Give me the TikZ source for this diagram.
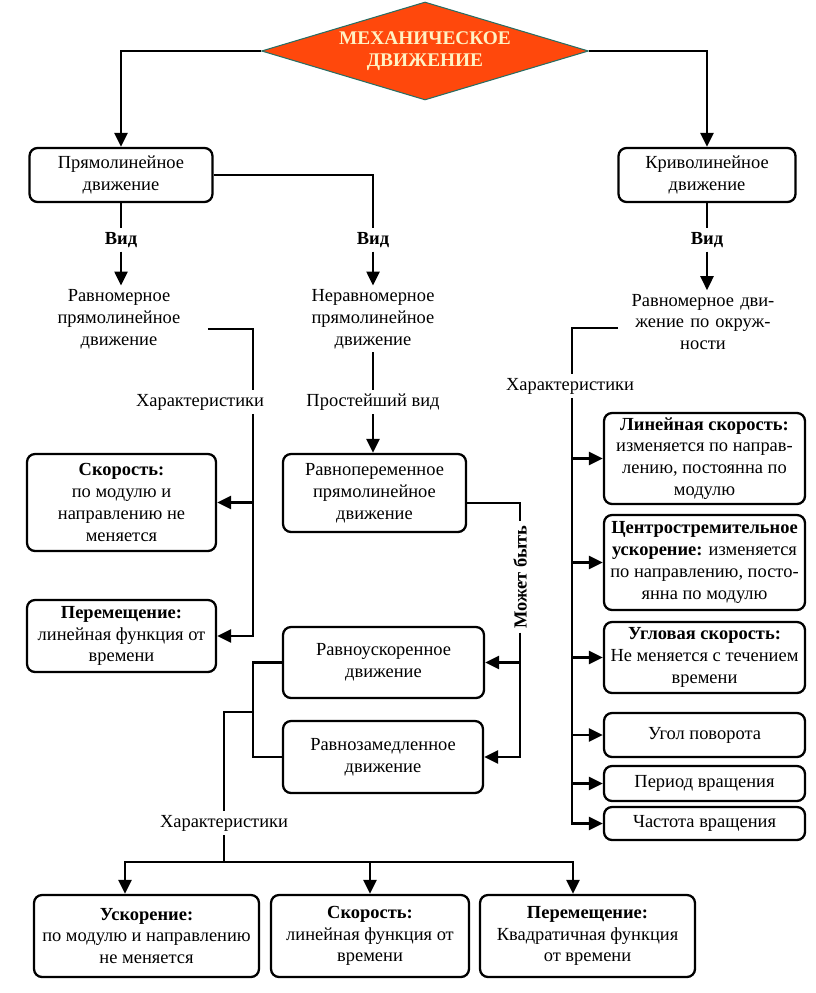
\documentclass[tikz,border=0pt]{standalone}
\usepackage{fontspec}
\setmainfont{Liberation Serif}
\usetikzlibrary{shapes.geometric, arrows.meta}
\definecolor{mechred}{RGB}{255,72,12}
\definecolor{mechtext}{RGB}{255,242,196}
\definecolor{mechedge}{RGB}{40,110,100}

\tikzset{
	box/.style={draw, rounded corners=0.16cm, line width=1.3pt, align=center, fill=white, inner sep=1pt},
	rbox/.style={box, minimum width=4.02cm},
	lbl/.style={align=center, fill=white, inner sep=2pt},
	conn/.style={line width=1.4pt},
	arr/.style={conn, -{Triangle[length=0.28cm, width=0.26cm]}},
}

\begin{document}
\begin{tikzpicture}[x=0.02cm, y=-0.02cm, font={\fontsize{10.5}{12.4}\selectfont}]
	\useasboundingbox (0,0) rectangle (815,993);
	
	\node[diamond, draw=mechedge, line width=0.6pt, fill=mechred, aspect=3.3, minimum width=6.54cm, minimum height=1.96cm, inner sep=0pt, align=center, text=mechtext, font={\fontsize{11}{12.8}\selectfont\bfseries}] (mech) at (425,51) {МЕХАНИЧЕСКОЕ\\ДВИЖЕНИЕ};
	
	\node[box, minimum width=3.66cm, minimum height=1.08cm] (pr) at (121,175) {Прямолинейное\\движение};
	\node[box, minimum width=3.54cm, minimum height=1.08cm] (kr) at (707,175) {Криволинейное\\движение};
	
	\node[lbl] (vid1) at (121,240) {\textbf{Вид}};
	\node[lbl] (vid2) at (373,240) {\textbf{Вид}};
	\node[lbl] (vid3) at (707,240) {\textbf{Вид}};
	
	\node[lbl, text width=3.4cm] (rpd) at (119,319) {Равномерное\\прямолинейное\\движение};
	\node[lbl] (npd) at (373,319) {Неравномерное\\прямолинейное\\движение};
	\node[lbl, text width=3.24cm] (rdo) at (703,322) {Равномерное дви-\\жение по окруж-\\ности};
	
	\node[lbl] (har1) at (200,402) {Характеристики};
	\node[lbl] (prv) at (373,402) {Простейший вид};
	\node[lbl] (har3) at (570,386) {Характеристики};
	
	% straight motion
	\node[box, minimum width=3.78cm, minimum height=1.94cm] (sk1) at (121.5,502.5) {\textbf{Скорость:}\\по модулю и\\направлению не\\меняется};
	\node[box, minimum width=3.78cm, minimum height=1.44cm] (per1) at (121.5,636) {\textbf{Перемещение:}\\линейная функция от\\времени};
	\node[box, minimum width=3.66cm, minimum height=1.56cm] (rpp) at (374.5,493) {Равнопеременное\\прямолинейное\\движение};
	\node[lbl, rotate=90] (mb) at (520,577) {\textbf{Может быть}};
	\node[box, minimum width=4.02cm, minimum height=1.42cm] (ru) at (383.5,662.5) {Равноускоренное\\движение};
	\node[box, minimum width=4cm, minimum height=1.44cm] (rz) at (383,757) {Равнозамедленное\\движение};
	
	\node[lbl] (har2) at (224,823) {Характеристики};
	\node[box, minimum width=4.5cm, minimum height=1.64cm] (usk) at (146.5,936) {\textbf{Ускорение:}\\по модулю и направлению\\не меняется};
	\node[box, minimum width=3.96cm, minimum height=1.64cm] (sk2) at (370,936) {\textbf{Скорость:}\\линейная функция от\\времени};
	\node[box, minimum width=4.3cm, minimum height=1.64cm] (per2) at (587.5,936) {\textbf{Перемещение:}\\Квадратичная функция\\от времени};
	
	% circular motion
	\node[rbox, minimum height=1.82cm] (la) at (704.5,458.5) {\textbf{Линейная скорость:}\\изменяется по направ-\\лению, постоянна по\\модулю};
	\node[rbox, minimum height=1.9cm] (cu) at (704.5,562.5) {\textbf{Центростремительное}\\\textbf{ускорение:} изменяется\\по направлению, посто-\\янна по модулю};
	\node[rbox, minimum height=1.42cm] (ug) at (704.5,657.5) {\textbf{Угловая скорость:}\\Не меняется с течением\\времени};
	\node[rbox, minimum height=0.88cm] (up) at (704.5,735) {Угол поворота};
	\node[rbox, minimum height=0.7cm] (pv) at (704.5,783.5) {Период вращения};
	\node[rbox, minimum height=0.66cm] (cv) at (704.5,823.5) {Частота вращения};
	
	\coordinate (c1) at (253,500);
	\coordinate (c3) at (572,500);
	\coordinate (jn) at (254,712);
	\coordinate (hb) at (224,862);
	
	\draw[arr] (mech.west) -| (pr.north);
	\draw[arr] (mech.east) -| (kr.north);
	\draw[conn] (pr.south) -- (vid1.north);
	\draw[arr] (vid1.south) -- (vid1.south |- rpd.north);
	\draw[conn] (pr.east) -| (vid2.north);
	\draw[arr] (vid2.south) -- (vid2.south |- npd.north);
	\draw[conn] (kr.south) -- (vid3.north);
	\draw[arr] (vid3.south) -- (vid3.south |- rdo.north);
	
	\draw[conn] ([yshift=-0.2cm]rpd.east) -| (c1 |- har1.north);
	\draw[arr] (c1 |- har1.south) |- (per1.east);
	\draw[arr] (c1 |- sk1.east) -- (sk1.east);
	
	\draw[conn] (npd.south) -- (prv.north);
	\draw[arr] (prv.south) -- (prv.south |- rpp.north);
	\draw[conn] ([yshift=-0.2cm]rpp.east) -| (mb.east);
	\draw[arr] (mb.west) |- (rz.east);
	\draw[arr] (mb.west |- ru.east) -- (ru.east);
	
	\draw[conn] (ru.west) -- ++(-29,0) |- (rz.west);
	\draw[conn] (jn) -| (har2.north);
	\draw[conn] (har2.south) -- (hb);
	\draw[arr] (hb) -| ([xshift=-0.43cm]usk.north);
	\draw[arr] (hb) -| ([xshift=-0.29cm]per2.north);
	\draw[arr] (sk2.north |- hb) -- (sk2.north);
	
	\draw[conn] ([yshift=-0.12cm]rdo.west) -| (c3 |- har3.north);
	\draw[arr] (c3 |- har3.south) |- (cv.west);
	\foreach \b in {la, cu, ug, up, pv}
		\draw[arr] (c3 |- \b.west) -- (\b.west);
	
\end{tikzpicture}
\end{document}
